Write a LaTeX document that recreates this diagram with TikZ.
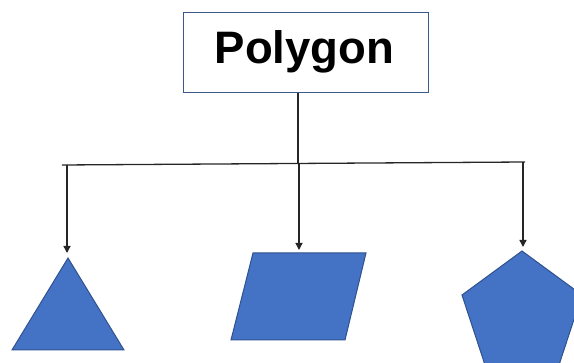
\documentclass[tikz,border=0pt]{standalone}
\usepackage{fontspec}
\setmainfont{Liberation Sans}
\usetikzlibrary{arrows.meta}
\definecolor{shapefill}{HTML}{4472C4}
\definecolor{shapeedge}{HTML}{2F528F}
\definecolor{boxedge}{HTML}{3B5A8A}
\definecolor{linecol}{HTML}{262626}
\tikzset{
  conn/.style={draw=linecol, line width=1.3pt},
  arr/.style={conn, -{Triangle[width=7pt,length=7pt]}},
  polyshape/.style={fill=shapefill, draw=shapeedge, line width=1pt},
  titlebox/.style={draw=boxedge, line width=1pt, fill=white}
}
\begin{document}
\begin{tikzpicture}[x=1pt,y=-1pt]
\useasboundingbox (0,0) rectangle (574,363);
\clip (0,0) rectangle (574,363);
% title box
\node[titlebox, minimum width=245pt, minimum height=80pt, inner sep=0pt] (poly) at (305.5,53) {};
\node[anchor=base, inner sep=0pt, font=\fontsize{45.5}{45.5}\selectfont\bfseries] (title) at (304.5,63.5) {Polygon};
% connector coordinates
\coordinate (hl) at (62,165);
\coordinate (hm) at (298,163.5);
\coordinate (hr) at (525,162);
\coordinate (j1) at (67,165);
\coordinate (j2) at (299,163.5);
\coordinate (j3) at (523,162);
\coordinate (t1) at (67,253);
\coordinate (t2) at (299,250);
\coordinate (t3) at (523,247);
% shapes
\draw[polyshape] (68,258) -- (124,350) -- (12,350) -- cycle;
\draw[polyshape] (253,253) -- (366,253) -- (345,340) -- (231,340) -- cycle;
\draw[polyshape] (522,251) -- (582,295) -- (559,365) -- (485,365) -- (462,295) -- cycle;
% connectors
\draw[conn] (poly.south -| hm) -- (hm);
\draw[conn] (hl) -- (hr);
\draw[arr] (j1) -- (t1);
\draw[arr] (j2) -- (t2);
\draw[arr] (j3) -- (t3);
\end{tikzpicture}
\end{document}
